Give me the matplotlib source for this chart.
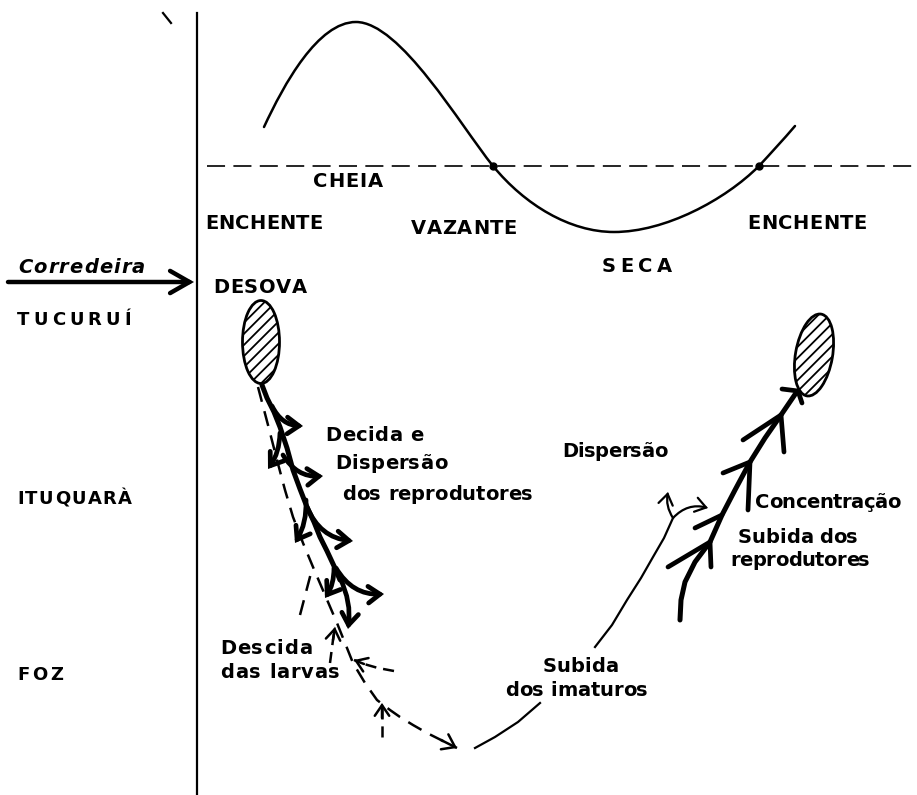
import matplotlib.pyplot as plt
from matplotlib.patches import Ellipse, FancyArrowPatch, PathPatch
from matplotlib.path import Path
from matplotlib.font_manager import FontProperties, findfont, get_font

plt.rcParams['lines.scale_dashes'] = False
plt.rcParams['hatch.linewidth'] = 1.3
plt.rcParams['font.family'] = ['DejaVu Sans']

# river level over the year (figure pixels, y down): curve nodes and bezier handles
level_nodes = [(264, 127), (356, 22), (493, 166), (614, 232), (759, 166), (795, 126)]
level_handles = [((284, 84), (318, 22)), ((400, 22), (460, 125)),
                 ((525, 205), (570, 232)), ((665, 232), (725, 200)),
                 ((771, 153), (783, 140))]
flood_level = 166
cross_x = [493, 759]

season_labels = ['CHEIA', 'ENCHENTE', 'VAZANTE', 'SECA', 'ENCHENTE', 'DESOVA']
places = ['TUCURUÍ', 'ITUQUARÀ', 'FOZ']
notes = ['Decida e', 'Dispersão', 'dos reprodutores', 'Dispersão',
         'Concentração', 'Subida dos', 'reprodutores', 'Descida',
         'das larvas', 'Subida', 'dos imaturos']

# descent of spawners
down_x = [262, 267, 274, 280, 287, 293, 300, 307, 314, 320, 327, 334, 340]
down_y = [385, 398, 412, 427, 448, 470, 489, 507, 522, 537, 551, 566, 580]
down_right = [((272, 406), (303, 426)), ((283, 455), (323, 476)),
              ((307, 507), (353, 541)), ((336, 568), (384, 594))]
down_left = [((280, 433), (268, 469)), ((306, 500), (295, 543)),
             ((334, 568), (325, 598)), ((340, 578), (348, 629))]

# larvae drifting down
larva_x = [258, 268, 277, 285, 293, 303, 313, 325, 337, 345, 353, 365,
           377, 390, 400, 413, 427, 441, 457]
larva_y = [387, 425, 460, 490, 517, 543, 567, 595, 623, 643, 663, 683,
           700, 710, 717, 725, 733, 740, 748]
larva_side = [[(330, 663), (333, 640), (335, 627)],
              [(394, 671), (378, 668), (364, 664), (354, 660)],
              [(382, 737), (382, 718), (382, 703)]]

# juveniles going up
juv1_x = [475, 495, 518, 540]
juv1_y = [748, 737, 722, 703]
juv2_x = [595, 612, 627, 641, 653, 664, 673]
juv2_y = [647, 625, 600, 578, 557, 538, 518]

# adults going up
up_x = [680, 681, 685, 695, 710, 722, 735, 750, 765, 781, 796]
up_y = [620, 600, 582, 562, 542, 515, 490, 462, 438, 415, 393]
chevrons = [((710, 542), [(668, 567), (711, 567)]),
            ((722, 515), [(695, 528)]),
            ((750, 462), [(723, 473), (748, 510)]),
            ((781, 415), [(743, 440), (784, 452)]),
            ((798, 391), [(782, 389), (802, 403)])]

fig = plt.figure(figsize=(9.17, 7.95), dpi=100)
ax = fig.add_axes([0, 0, 1, 1])
ax.set_xlim(0, 917)
ax.set_ylim(795, 0)
ax.axis('off')

PX = 100 / 72


def label(s, x0, x1, y, size, style='normal'):
    # lettering spread between x0 and x1, vertically centred on y
    fp = FontProperties(family='DejaVu Sans', weight='bold', style=style, size=size)
    font = get_font(findfont(fp))
    font.set_size(size, 72)
    adv = [font.load_char(ord(c)).linearHoriAdvance / 65536 * PX for c in s]
    track = (x1 - x0 - sum(adv)) / max(len(s) - 1, 1)
    base = y + 0.73 * size * PX / 2
    x = x0
    for c, a in zip(s, adv):
        if c != ' ':
            ax.text(x, base, c, fontproperties=fp, ha='left', va='baseline')
        x += a + track


def arrow(p0, p1, lw=3.0, rad=0.0, hl=0.42, hw=0.3):
    a = FancyArrowPatch(p0, p1, arrowstyle=f'->,head_length={hl},head_width={hw}',
                        connectionstyle=f'arc3,rad={rad}', mutation_scale=20,
                        lw=lw, color='black', capstyle='round',
                        joinstyle='miter', shrinkA=0, shrinkB=0)
    ax.add_patch(a)


# axis line and small mark
ax.plot([197, 197], [13, 795], color='black', lw=1.6)
ax.plot([163, 171], [13, 23], color='black', lw=1.6)

# hydrograph
verts = [level_nodes[0]]
codes = [Path.MOVETO]
for (h1, h2), node in zip(level_handles, level_nodes[1:]):
    verts += [h1, h2, node]
    codes += [Path.CURVE4] * 3
ax.add_patch(PathPatch(Path(verts, codes), facecolor='none', edgecolor='black',
                       lw=1.8, capstyle='round'))
ax.plot([207, 917], [flood_level, flood_level], color='black', lw=1.2,
        dashes=(13, 6))
ax.plot(cross_x, [flood_level] * 2, 'o', color='black', ms=5)

label(season_labels[0], 313, 383, 180, 14)
label(season_labels[1], 205, 323, 222, 14)
label(season_labels[2], 411, 517, 227, 14)
label(season_labels[3], 602, 672, 265, 14)
label(season_labels[4], 747, 867, 222, 14)
label(season_labels[5], 213, 307, 286, 14)
for name, (x1, y) in zip(places, [(131, 318), (132, 497), (63, 673)]):
    label(name, 17, x1, y, 13)

label('Corredeira', 18, 145, 266, 14, style='italic')
arrow((8, 282), (194, 282), lw=3.2, hl=0.7, hw=0.4)

# spawning areas
for cx, cy, ang in [(261, 342, 0), (814, 355, 10)]:
    ax.add_patch(Ellipse((cx, cy), 37, 83, angle=ang, facecolor='white',
                         edgecolor='black', lw=2.0, hatch='///'))

# descent of spawners
ax.plot(down_x, down_y, color='black', lw=3.6, solid_capstyle='round')
for p0, p1 in down_right:
    arrow(p0, p1, lw=3.4, rad=0.3)
for p0, p1 in down_left:
    arrow(p0, p1, lw=3.4, rad=-0.15)

# larvae
ax.plot(larva_x, larva_y, color='black', lw=1.8, dashes=(11, 7))
arrow((larva_x[-2], larva_y[-2]), (larva_x[-1], larva_y[-1]), lw=1.8)
ax.plot([300, 311], [615, 573], color='black', lw=1.8, dashes=(11, 7))
for pts in larva_side:
    ax.plot([p[0] for p in pts], [p[1] for p in pts], color='black', lw=1.8,
            dashes=(8, 5))
    arrow(pts[-2], pts[-1], lw=1.8, hl=0.38, hw=0.26)

# juveniles
ax.plot(juv1_x, juv1_y, color='black', lw=1.6)
ax.plot(juv2_x, juv2_y, color='black', lw=1.6)
arrow((673, 518), (668, 492), lw=1.6, rad=-0.2, hl=0.38, hw=0.26)
arrow((673, 518), (708, 508), lw=1.6, rad=-0.3, hl=0.38, hw=0.26)

# adults going up
ax.plot(up_x, up_y, color='black', lw=3.6, solid_capstyle='round')
for apex, barbs in chevrons:
    for b in barbs:
        ax.plot([b[0], apex[0]], [b[1], apex[1]], color='black', lw=3.4,
                solid_capstyle='round')

size = 14
label(notes[0], 325, 423, 434, size)
label(notes[1], 335, 447, 462, size)
label(notes[2], 342, 533, 493, size)
label(notes[3], 562, 667, 450, size)
label(notes[4], 755, 900, 501, size)
label(notes[5], 738, 858, 536, size)
label(notes[6], 730, 870, 559, size)
label(notes[7], 220, 312, 647, size)
label(notes[8], 220, 340, 671, size)
label(notes[9], 543, 618, 665, size)
label(notes[10], 505, 648, 689, size)

fig.savefig('out.png', dpi=100)
